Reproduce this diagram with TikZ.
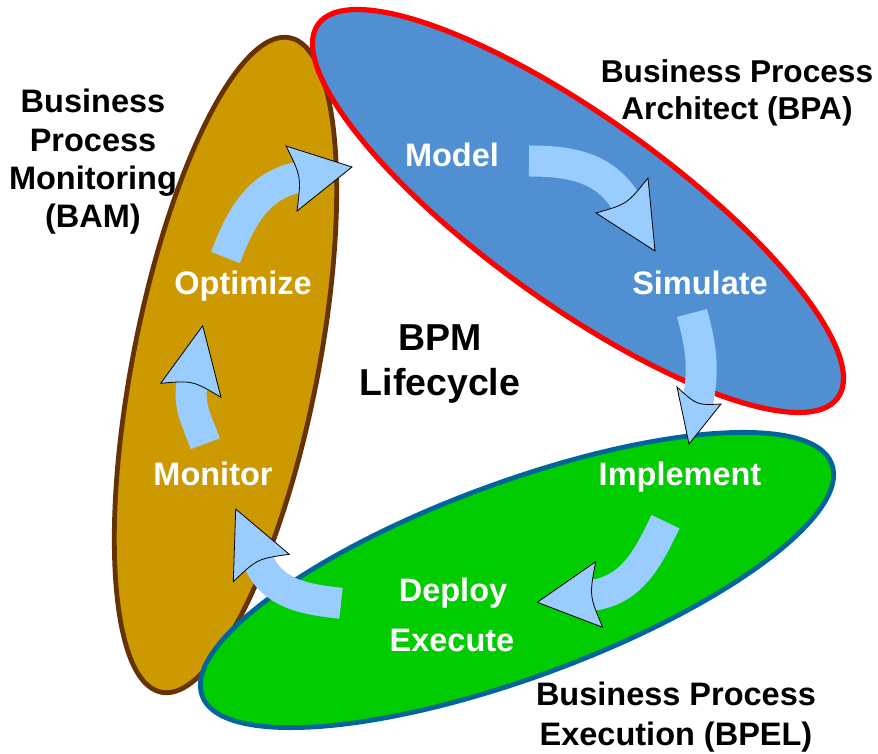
\documentclass[tikz,border=0pt]{standalone}
\usepackage{fontspec}
\setmainfont{Liberation Sans}
\usepackage{xcolor}
\usepackage{tikz}

\definecolor{bamfill}{HTML}{CC9900}
\definecolor{bamline}{HTML}{663300}
\definecolor{bpafill}{HTML}{4F8FD2}
\definecolor{bpaline}{HTML}{FF0000}
\definecolor{bpelfill}{HTML}{00CC00}
\definecolor{bpelline}{HTML}{006699}
\definecolor{arrowfill}{HTML}{99CCFF}

\begin{document}
\begin{tikzpicture}[x=1pt, y=1pt,
			txt/.style={font=\fontsize{32.5}{38.3}\selectfont\bfseries, align=center, inner sep=0pt},
			phase/.style={txt, text=white},
			shaft/.style={draw=arrowfill, line width=31pt},
			tiphead/.style={fill=arrowfill, draw=black, line width=0.8pt, line join=miter}]

			\useasboundingbox (0,0) rectangle (878,754);

			\draw[fill=bamfill, draw=bamline, line width=4.8pt, shift={(225.5,389)}, rotate=78.9] (0,0) ellipse [x radius=333.5, y radius=92.5];
			\draw[fill=bpafill, draw=bpaline, line width=5.2pt, shift={(578,543)}, rotate=-35.7] (0,0) ellipse [x radius=320, y radius=93];
			\draw[fill=bpelfill, draw=bpelline, line width=4.8pt, shift={(517,174)}, rotate=20.2] (0,0) ellipse [x radius=335.5, y radius=97.5];

			\node[txt] (bam) at (93,592) {Business\\Process\\Monitoring\\(BAM)};
			\node[txt, font=\fontsize{31.6}{37}\selectfont\bfseries] (bpa) at (737,661) {Business Process\\Architect (BPA)};
			\node[txt, font=\fontsize{32.5}{40}\selectfont\bfseries] (bpel) at (676,37) {Business Process\\Execution (BPEL)};
			\node[txt, font=\fontsize{37.5}{45}\selectfont\bfseries] (cycle) at (440,390) {BPM\\Lifecycle};

			\node[phase] (model) at (452,599) {Model};
			\node[phase] (simulate) at (700,471) {Simulate};
			\node[phase] (implement) at (680,277) {Implement};
			\node[phase] (deploy) at (453,161) {Deploy};
			\node[phase] (execute) at (452,114) {Execute};
			\node[phase] (monitor) at (213,280) {Monitor};
			\node[phase] (optimize) at (243,468) {Optimize};

			\draw[shaft] (225.5,496.5) to[out=69, in=191] (299.4,577);
			\draw[tiphead] (297,543) -- (352,587) -- (286,608) .. controls (301.3,577.4) .. cycle;

			\draw[shaft] (529,593) to[out=0, in=121] (626.1,551.6);
			\draw[tiphead] (648,576) -- (655,503) -- (596,541) .. controls (627.1,549.9) .. cycle;

			\draw[shaft] (692,441) to[out=-75, in=78.4] (697.4,350.7);
			\draw[tiphead] (721,350) -- (689,310) -- (677,367) .. controls (697,348.7) .. cycle;

			\draw[shaft] (665.5,232.3) to[out=-115.7, in=7.2] (591.3,158.5);
			\draw[tiphead] (595.7,192.3) -- (537.3,151.7) -- (602.7,126.7) .. controls (589.3,158.3) .. cycle;

			\draw[shaft] (341,150.7) to[out=173.8, in=-66.5] (258.1,193.3);
			\draw[tiphead] (289.3,199.7) -- (235.7,245) -- (233.3,172.3) .. controls (257.3,195.2) .. cycle;

			\draw[shaft] (205.3,310.2) to[out=109.7, in=-100.4] (192.3,371.6);
			\draw[tiphead] (221,356.7) -- (202.7,428.3) -- (160.7,370.7) .. controls (192.65,373.5) .. cycle;
		\end{tikzpicture}
\end{document}
